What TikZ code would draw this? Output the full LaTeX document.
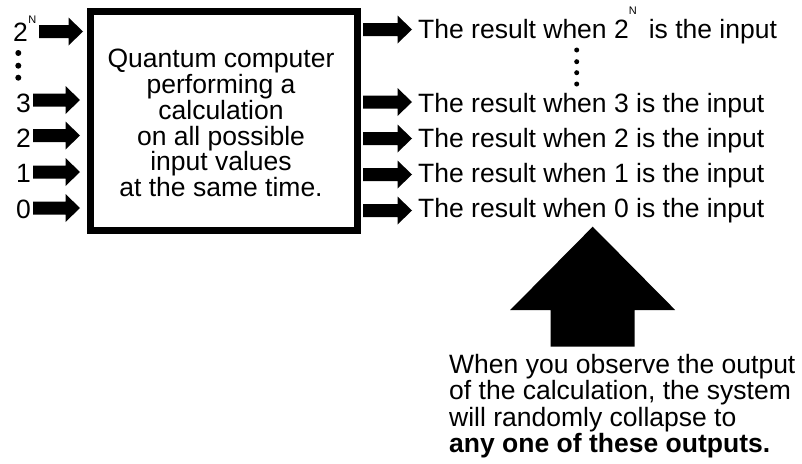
\documentclass[tikz,border=0pt]{standalone}
\usepackage{fontspec}
\setmainfont{Liberation Sans}
\usetikzlibrary{calc}
\newcommand\myfatarrow[2]{\fill ($(#1)+(0,6.5)$) -- ($(#2)+(-14.5,6.5)$) -- ($(#2)+(-14.5,14)$) -- (#2) -- ($(#2)+(-14.5,-14)$) -- ($(#2)+(-14.5,-6.5)$) -- ($(#1)+(0,-6.5)$) -- cycle;}
\newcommand\supN[1]{\raisebox{#1}{\fontsize{11}{11}\selectfont N}}
\begin{document}
\begin{tikzpicture}[x=1pt,y=-1pt,
  txt/.style={inner sep=0pt, font=\fontsize{26.5}{26.3}\selectfont},
  boxtxt/.style={inner sep=0pt, align=center, font=\fontsize{26.5}{25.8}\selectfont},
  qbox/.style={draw, line width=7pt, inner sep=0pt}]
\useasboundingbox[fill=white] (0,0) rectangle (802,463);
% main box
\node[qbox, minimum width=267.5pt, minimum height=218.5pt] (box) at (223.75,120.75) {};
\node[boxtxt, anchor=north] (qtext) at (221,49) {Quantum computer\\performing a\\calculation\\on all possible\\input values\\at the same time.};
% input labels
\node[txt, anchor=base east] (lN) at (36.5,41.7) {2\hspace{0.5pt}\supN{18.7pt}};
\node[txt, anchor=base east] (l3) at (31,112) {3};
\node[txt, anchor=base east] (l2) at (31,147) {2};
\node[txt, anchor=base east] (l1) at (31,182) {1};
\node[txt, anchor=base east] (l0) at (31,218) {0};
% input arrows
\coordinate (aNs) at (39,31.5);  \coordinate (aNt) at (83,31.5);
\coordinate (a3s) at (33,100);   \coordinate (a3t) at (80,100);
\coordinate (a2s) at (33,135.5); \coordinate (a2t) at (80,135.5);
\coordinate (a1s) at (33,172);   \coordinate (a1t) at (80,172);
\coordinate (a0s) at (33,208);   \coordinate (a0t) at (80,208);
\myfatarrow{aNs}{aNt}
\myfatarrow{a3s}{a3t}
\myfatarrow{a2s}{a2t}
\myfatarrow{a1s}{a1t}
\myfatarrow{a0s}{a0t}
% left dots
\fill (18.3,53) circle (3pt) (18.3,65.7) circle (3pt) (18.3,77.7) circle (3pt);
% output arrows
\coordinate (bNs) at (363,29.5);  \coordinate (bNt) at (412,29.5);
\coordinate (b3s) at (363,102);   \coordinate (b3t) at (412,102);
\coordinate (b2s) at (363,138.5); \coordinate (b2t) at (412,138.5);
\coordinate (b1s) at (363,174.5); \coordinate (b1t) at (412,174.5);
\coordinate (b0s) at (363,210.5); \coordinate (b0t) at (412,210.5);
\myfatarrow{bNs}{bNt}
\myfatarrow{b3s}{b3t}
\myfatarrow{b2s}{b2t}
\myfatarrow{b1s}{b1t}
\myfatarrow{b0s}{b0t}
% output texts
\node[txt, anchor=base west] (rN) at (418,38.5) {The result when 2\supN{24pt}\hspace{12pt}is the input};
\node[txt, anchor=base west] (r3) at (418,112) {The result when 3 is the input};
\node[txt, anchor=base west] (r2) at (418,147) {The result when 2 is the input};
\node[txt, anchor=base west] (r1) at (418,182) {The result when 1 is the input};
\node[txt, anchor=base west] (r0) at (418,217) {The result when 0 is the input};
% right dots
\fill (576.7,50) circle (2.5pt) (576.7,61.7) circle (2.5pt) (576.7,72.7) circle (2.5pt) (576.7,84) circle (2.5pt);
% big up arrow
\coordinate (uptip) at (592.7,226.7);
\coordinate (upbase) at (592.7,346.7);
\fill ($(upbase)+(-42,0)$) -- ($(upbase)+(-42,-36.7)$) -- ($(upbase)+(-82.5,-36.7)$) -- (uptip) -- ($(upbase)+(82.5,-36.7)$) -- ($(upbase)+(42,-36.7)$) -- ($(upbase)+(42,0)$) -- cycle;
% explanation
\node[txt, align=left, anchor=north west] (note) at (449,354) {When you observe the output\\of the calculation, the system\\will randomly collapse to\\\textbf{any one of these outputs.}};
\end{tikzpicture}
\end{document}
